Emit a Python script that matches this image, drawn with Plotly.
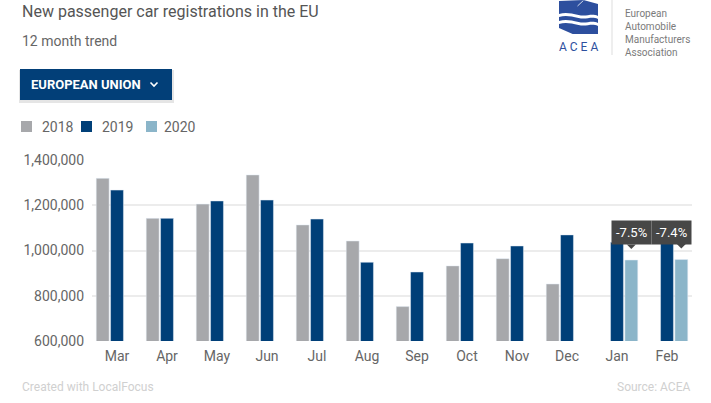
import base64
import plotly.graph_objects as go

months = ["Mar", "Apr", "May", "Jun", "Jul", "Aug", "Sep", "Oct", "Nov", "Dec", "Jan", "Feb"]
reg_2018 = [1319000, 1142000, 1205000, 1334000, 1113000, 1042000, 752000, 932000, 964000, 852000, None, None]
reg_2019 = [1267000, 1142000, 1219000, 1223000, 1139000, 948000, 905000, 1033000, 1020000, 1069000, 1036000, 1037000]
reg_2020 = [None, None, None, None, None, None, None, None, None, None, 958000, 960000]
y_ticks = [600000, 800000, 1000000, 1200000, 1400000]

W, H = 711, 403
ML, MR, MT, MB = 92, 19, 160, 62
PW, PH = W - ML - MR, H - MT - MB
BARGAP, GROUPGAP = 0.14, 0.1
FONT = "Roboto"

def X(px):
    return (px - ML) / PW

def Y(py):
    return (H - MB - py) / PH

fig = go.Figure()
fig.add_bar(x=months, y=reg_2018, name="2018", marker_color="#a7a8ab")
fig.add_bar(x=months, y=reg_2019, name="2019", marker_color="#003f78")
fig.add_bar(x=months, y=reg_2020, name="2020", marker_color="#8bb5c9")

shapes = []
annotations = []

# tooltips with year-on-year change for 2020 months
cat_px = PW / len(months)
slot = (1 - BARGAP) / 3
for i, v in enumerate(reg_2020):
    if v is None:
        continue
    pct = (v / reg_2019[i] - 1) * 100
    label = f"{pct:.1f}%"
    cx = i + slot  # third slot of group
    centre_px = (cx + 0.5) * cat_px
    common = dict(y=v, yref="y", yanchor="bottom", yshift=15, text=label, showarrow=False,
                  bgcolor="#474747", borderpad=4, font=dict(family=FONT, size=13, color="white"))
    if centre_px + 20 > PW:
        annotations.append(dict(x=1, xref="paper", xanchor="right", **common))
    else:
        annotations.append(dict(x=cx, xref="x", xanchor="center", **common))
    shapes.append(dict(type="path", xref="x", yref="y", xsizemode="pixel", ysizemode="pixel",
                       xanchor=cx, yanchor=v, path="M-4.5,15.5 L4.5,15.5 L0,11 Z",
                       fillcolor="#474747", line=dict(width=0)))

# title & subtitle
annotations.append(dict(x=X(20), y=Y(11), xref="paper", yref="paper", xanchor="left", yanchor="middle",
                        text="New passenger car registrations in the EU", showarrow=False,
                        font=dict(family=FONT, size=16, color="#555555")))
annotations.append(dict(x=X(20), y=Y(41), xref="paper", yref="paper", xanchor="left", yanchor="middle",
                        text="12 month trend", showarrow=False,
                        font=dict(family=FONT, size=14, color="#666666")))

# dropdown button
shapes.append(dict(type="rect", xref="paper", yref="paper", x0=X(19), x1=X(174), y0=Y(70), y1=Y(103),
                   fillcolor="rgba(0,0,0,0.10)", line=dict(width=0), layer="above"))
shapes.append(dict(type="rect", xref="paper", yref="paper", x0=X(20), x1=X(172), y0=Y(69), y1=Y(100),
                   fillcolor="#023f78", line=dict(width=0), layer="above"))
shapes.append(dict(type="path", xref="paper", yref="paper",
                   path=f"M{X(150.5)},{Y(82.5)} L{X(154)},{Y(86)} L{X(157.5)},{Y(82.5)}",
                   line=dict(color="white", width=1.6), layer="above"))
annotations.append(dict(x=X(29), y=Y(84.5), xref="paper", yref="paper", xanchor="left", yanchor="middle",
                        text="<b>EUROPEAN UNION</b>", showarrow=False,
                        font=dict(family=FONT, size=13, color="white")))

# legend
leg = [("2018", "#a7a8ab", 21, 40), ("2019", "#003f78", 81, 100), ("2020", "#8bb5c9", 146, 162)]
for name, col, sx, tx in leg:
    shapes.append(dict(type="rect", xref="paper", yref="paper", x0=X(sx), x1=X(sx + 11), y0=Y(121), y1=Y(132),
                       fillcolor=col, line=dict(width=0), layer="above"))
    annotations.append(dict(x=X(tx), y=Y(127), xref="paper", yref="paper", xanchor="left", yanchor="middle",
                            text=name, showarrow=False, font=dict(family=FONT, size=14, color="#666666")))

# footer
annotations.append(dict(x=X(20), y=Y(387), xref="paper", yref="paper", xanchor="left", yanchor="middle",
                        text="Created with LocalFocus", showarrow=False,
                        font=dict(family=FONT, size=12, color="#d0d0d0")))
annotations.append(dict(x=X(692), y=Y(387), xref="paper", yref="paper", xanchor="right", yanchor="middle",
                        text="Source: ACEA", showarrow=False,
                        font=dict(family=FONT, size=12, color="#d0d0d0")))

# logo
svg = """<svg xmlns='http://www.w3.org/2000/svg' width='40' height='34' viewBox='0 0 40 34'>
<g fill='#2d4f9e'>
<path d='M0,1 L25,0 L40,4 L40,16 C33,13 28,17 20,15 C12,13 6,12 0,14 Z'/>
<path d='M0,17 C6,15 12,16 20,18 C28,20 33,16 40,19 L40,23 C33,20 28,24 20,22 C12,20 6,19 0,21 Z'/>
<path d='M0,24 C6,22 12,23 20,25 C28,27 33,23 40,26 L40,34 L14,34 L0,28 Z'/>
</g>
<path d='M25,0.5 L19,6' stroke='#ffffff' stroke-width='0.8' fill='none'/>
</svg>"""
src = "data:image/svg+xml;base64," + base64.b64encode(svg.encode()).decode()
images = [dict(source=src, xref="paper", yref="paper", x=X(559), y=Y(0), sizex=X(598) - X(559),
               sizey=Y(0) - Y(34), xanchor="left", yanchor="top", sizing="stretch", layer="above")]
annotations.append(dict(x=X(578.5), y=Y(47), xref="paper", yref="paper", xanchor="center", yanchor="middle",
                        text="A C E A", showarrow=False, font=dict(family=FONT, size=12, color="#2d4f9e")))
shapes.append(dict(type="line", xref="paper", yref="paper", x0=X(612), x1=X(612), y0=Y(0), y1=Y(55),
                   line=dict(color="#dddddd", width=1)))
annotations.append(dict(x=X(623), y=Y(32.5), xref="paper", yref="paper", xanchor="left", yanchor="middle",
                        align="left", text="European<br>Automobile<br>Manufacturers<br>Association",
                        showarrow=False, font=dict(family=FONT, size=10, color="#7b7b7b")))

fig.update_layout(
    width=W, height=H,
    margin=dict(l=ML, r=MR, t=MT, b=MB),
    paper_bgcolor="white", plot_bgcolor="white",
    barmode="group", bargap=BARGAP, bargroupgap=GROUPGAP,
    showlegend=False,
    font=dict(family=FONT, color="#666666"),
    shapes=shapes, annotations=annotations, images=images,
    xaxis=dict(type="category", tickfont=dict(size=14, color="#666666"), showgrid=False,
               showline=False, ticks="", zeroline=False, ticklabelstandoff=5),
    yaxis=dict(range=[600000, 1400000], tickvals=y_ticks, tickformat=",d",
               tickfont=dict(size=14, color="#666666"), gridcolor="#ececec", gridwidth=2,
               showline=False, ticks="", zeroline=False, ticklabelstandoff=7),
)

fig.write_html("out.html", config={"displayModeBar": False},
               post_script="document.body.style.margin='0';")
